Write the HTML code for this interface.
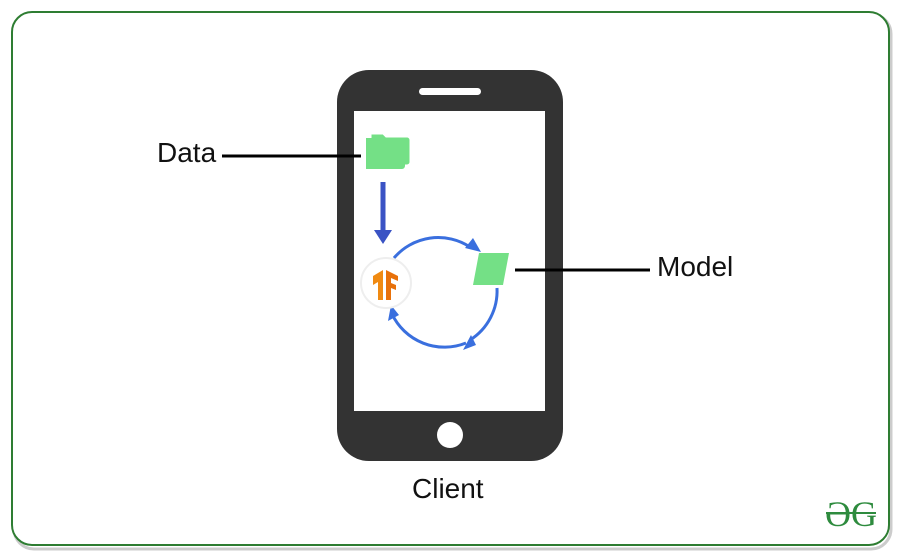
<!DOCTYPE html>
<html><head><style>
body{margin:0;width:900px;height:554px;background:#fff;font-family:"Liberation Sans",sans-serif;overflow:hidden}
.t{position:absolute;font-size:28px;color:#111;line-height:32px}
</style></head><body>
<svg width="900" height="554" style="position:absolute;left:0;top:0">
<rect x="14" y="14" width="877" height="535" rx="20" fill="none" stroke="#ccc" stroke-width="3"/>
<rect x="12" y="12" width="877" height="533" rx="20" fill="#fff" stroke="#2e7d32" stroke-width="2"/>
<rect x="337" y="70" width="226" height="391" rx="32" fill="#333"/>
<rect x="354" y="111" width="191" height="300" fill="#fff"/>
<rect x="419" y="88" width="62" height="7" rx="3.5" fill="#fff"/>
<circle cx="450" cy="435" r="13" fill="#fff"/>
<line x1="222" y1="156" x2="361" y2="156" stroke="#000" stroke-width="3"/>
<line x1="515" y1="270" x2="650" y2="270" stroke="#000" stroke-width="3"/>
<path d="M371 134h12l3 3h21a3 3 0 0 1 3 3v22a3 3 0 0 1-3 3h-36z" fill="#74e086" stroke="#fff" stroke-width="1"/>
<path d="M366 138h13l3 3h20a3 3 0 0 1 3 3v22a3 3 0 0 1-3 3h-36z" fill="#74e086"/>
<line x1="383" y1="182" x2="383" y2="232" stroke="#3a53c4" stroke-width="5"/>
<path d="M374 230h18l-9 14z" fill="#3a53c4"/>
<path d="M394 258 A58 58 0 0 1 470 247" fill="none" stroke="#3a6fde" stroke-width="3"/>
<path d="M497 288 A58 58 0 0 1 470 340" fill="none" stroke="#3a6fde" stroke-width="3"/>
<path d="M466 343 A58 58 0 0 1 392 314" fill="none" stroke="#3a6fde" stroke-width="3"/>
<path d="M481 252l-16-4l8-10z" fill="#3a6fde"/>
<path d="M463 350l8-15l5 10z" fill="#3a6fde"/>
<path d="M391 305l-3 16l11-6z" fill="#3a6fde"/>
<circle cx="386" cy="283" r="25" fill="#fff" stroke="#eee" stroke-width="2"/>
<path d="M373 276l10-6v30l-5 0v-18l-5 3z" fill="#f08a12"/>
<path d="M386 270l12 6v5l-7-3v5l5 2v5l-5-2v12h-5z" fill="#e8710a"/>
<path d="M479 253h30l-6 32h-30z" fill="#74e086"/>
<text x="851" y="526" text-anchor="middle" font-family="Liberation Serif" font-size="36" fill="#2e8b3e">ƏG</text>
<line x1="826" y1="513" x2="876" y2="513" stroke="#2e8b3e" stroke-width="2"/>
</svg>
<div class="t" style="left:157px;top:137px">Data</div>
<div class="t" style="left:657px;top:251px">Model</div>
<div class="t" style="left:412px;top:473px">Client</div>
</body></html>
